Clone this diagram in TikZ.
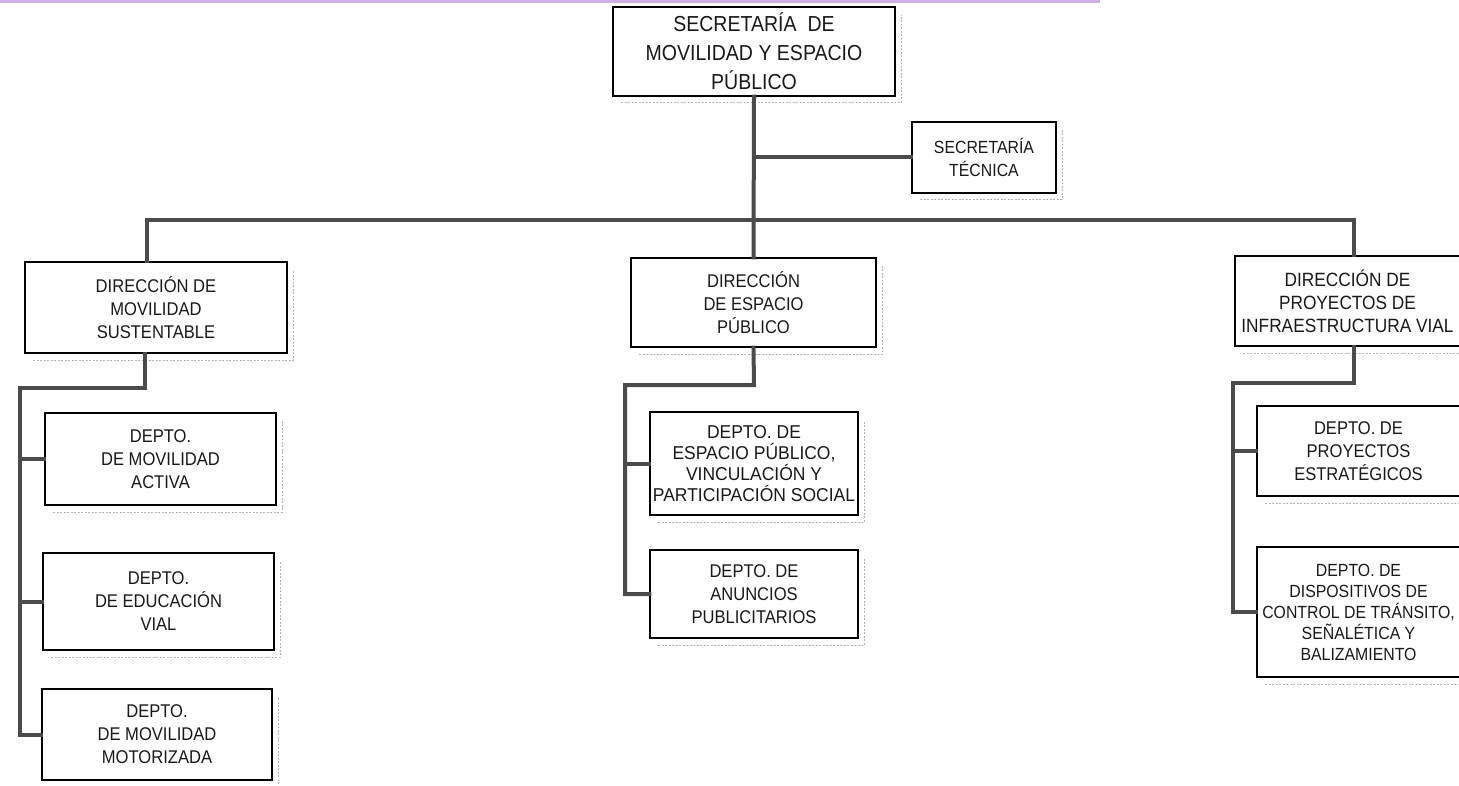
\documentclass[tikz,border=0pt]{standalone}
\usepackage{fontspec}
\setmainfont{Liberation Sans}
\newfontfamily\condfont[FakeStretch=0.9]{Liberation Sans}
\newfontfamily\semicondfont[FakeStretch=0.94]{Liberation Sans}
\definecolor{topline}{RGB}{205,175,225}
\definecolor{linkgray}{RGB}{75,75,75}
\begin{document}
\begin{tikzpicture}[x=1pt,y=-1pt,
  box/.style={draw=black, line width=1.3pt, fill=white, align=center, inner sep=0pt,
    font=\condfont\fontsize{18.4}{23}\selectfont, text=black!90},
  bigbox/.style={box, font=\condfont\fontsize{21.7}{29}\selectfont},
  link/.style={draw=linkgray, line width=4pt, line cap=rect},
  shade/.style={draw=black!30, line width=1pt, dash pattern=on 2pt off 1.5pt}
]
\useasboundingbox (0,0) rectangle (1459,786);
\fill[white] (0,0) rectangle (1459,786);
% faint top edge of the scan
\fill[topline] (0,0) rectangle (1100,3);

% shadows
\foreach \a/\b/\c/\d in {613/7/895/96, 912/122/1056/193, 25/262/287/353, 631/258/876/347,
  45/413/276/505, 43/553/274/650, 42/689/272/780, 650/412/858/515, 650/550/858/638,
  1235/256/1460/346, 1257/406/1460/496, 1257/547/1460/677}
  {\draw[shade] (\a+8,\d+7) -- (\c+6,\d+7) -- (\c+6,\b+8);}

% boxes
\node[bigbox, minimum width=282pt, minimum height=89pt] (top) at (754,51.5)
  {SECRETARÍA\ \ DE\\MOVILIDAD Y ESPACIO\\PÚBLICO};
\node[box, font=\condfont\fontsize{17.6}{23}\selectfont, minimum width=144pt, minimum height=71pt] (tec) at (984,157.5)
  {SECRETARÍA\\TÉCNICA};
\node[box, minimum width=262pt, minimum height=91pt] (d1) at (156,307.5)
  {DIRECCIÓN DE\\MOVILIDAD\\SUSTENTABLE};
\node[box, minimum width=245pt, minimum height=89pt] (d2) at (753.5,302.5)
  {DIRECCIÓN\\DE ESPACIO\\PÚBLICO};
\node[box, font=\condfont\fontsize{19.2}{23}\selectfont, minimum width=225pt, minimum height=90pt] (d3) at (1347.5,301)
  {DIRECCIÓN DE\\PROYECTOS DE\\INFRAESTRUCTURA VIAL};
\node[box, minimum width=231pt, minimum height=92pt] (a1) at (160.5,459)
  {DEPTO.\\DE MOVILIDAD\\ACTIVA};
\node[box, minimum width=231pt, minimum height=97pt] (a2) at (158.5,601.5)
  {DEPTO.\\DE EDUCACIÓN\\VIAL};
\node[box, minimum width=230pt, minimum height=91pt] (a3) at (157,734.5)
  {DEPTO.\\DE MOVILIDAD\\MOTORIZADA};
\node[box, font=\semicondfont\fontsize{18.6}{21}\selectfont, minimum width=208pt, minimum height=103pt] (b1) at (754,463.5)
  {DEPTO. DE\\ESPACIO PÚBLICO,\\VINCULACIÓN Y\\PARTICIPACIÓN SOCIAL};
\node[box, minimum width=208pt, minimum height=88pt] (b2) at (754,594)
  {DEPTO. DE\\ANUNCIOS\\PUBLICITARIOS};
\node[box, minimum width=203pt, minimum height=90pt] (c1) at (1358.5,451)
  {DEPTO. DE\\PROYECTOS\\ESTRATÉGICOS};
\node[box, font=\condfont\fontsize{17.6}{21}\selectfont, minimum width=203pt, minimum height=130pt] (c2) at (1358.5,612)
  {DEPTO. DE\\DISPOSITIVOS DE\\CONTROL DE TRÁNSITO,\\SEÑALÉTICA Y\\BALIZAMIENTO};

% junction coordinates
\coordinate (L) at (147,220);
\coordinate (R) at (1354,220);
\coordinate (k1) at (145,388);
\coordinate (v1) at (20,388);
\coordinate (k2) at (754,385);
\coordinate (v2) at (625,385);
\coordinate (k3) at (1354,383);
\coordinate (v3) at (1233,383);

% connectors
\draw[link] (top.south) -- (d2.north);
\draw[link] (top.south |- tec.west) -- (tec.west);
\draw[link] (L) -- (R);
\draw[link] (L) -- (L |- d1.north);
\draw[link] (R) -- (R |- d3.north);

\draw[link] (k1 |- d1.south) -- (k1) -- (v1) -- (v1 |- a3.west) -- (a3.west);
\draw[link] (v1 |- a1.west) -- (a1.west);
\draw[link] (v1 |- a2.west) -- (a2.west);

\draw[link] (d2.south) -- (k2) -- (v2) -- (v2 |- b2.west) -- (b2.west);
\draw[link] (v2 |- b1.west) -- (b1.west);

\draw[link] (k3 |- d3.south) -- (k3) -- (v3) -- (v3 |- c2.west) -- (c2.west);
\draw[link] (v3 |- c1.west) -- (c1.west);
\end{tikzpicture}
\end{document}
